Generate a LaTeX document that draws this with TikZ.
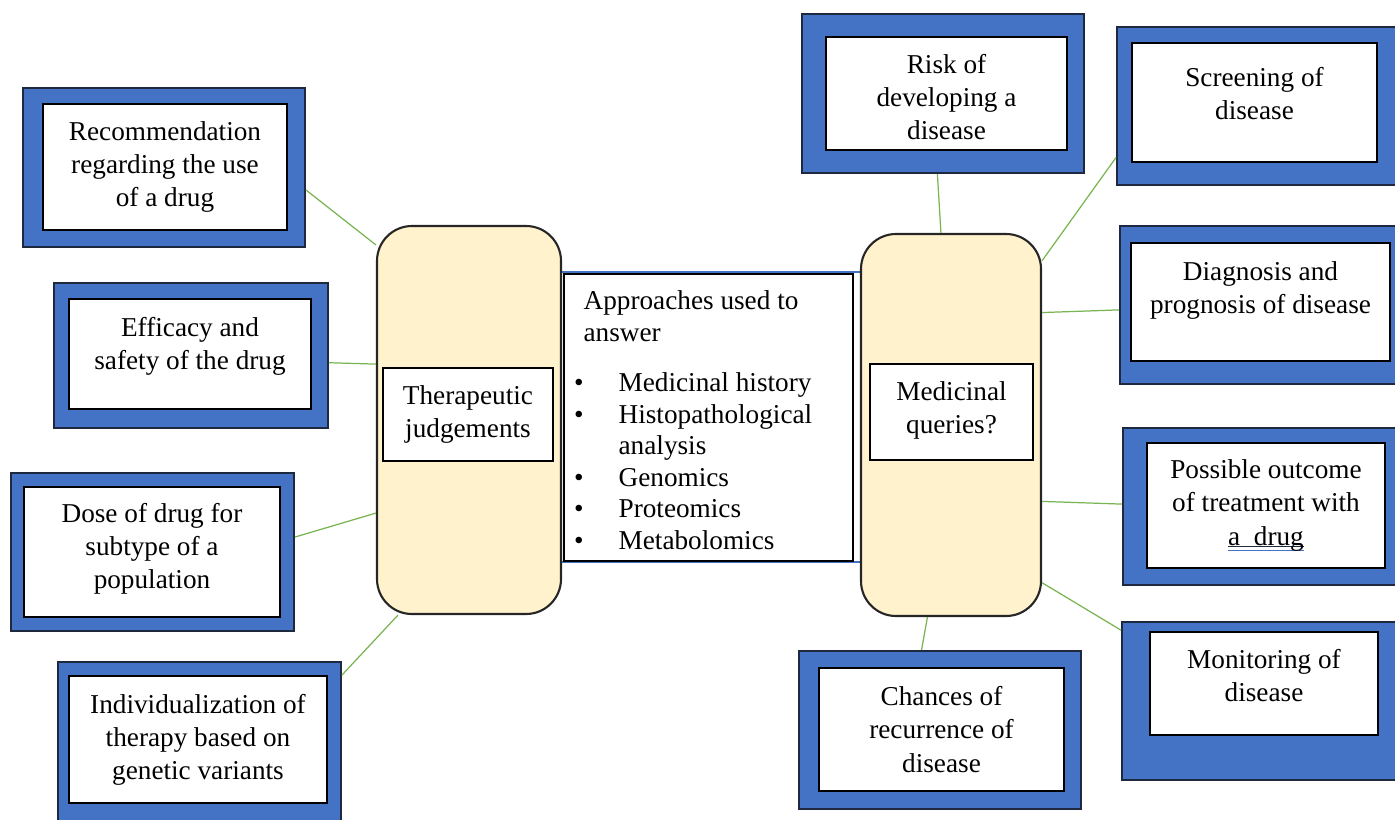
\documentclass[tikz,border=0pt]{standalone}
\usepackage{fontspec}
\setmainfont{Liberation Serif}
\usetikzlibrary{fit}
\definecolor{boxblue}{RGB}{68,114,196}
\definecolor{boxedge}{RGB}{30,40,62}
\definecolor{pillfill}{RGB}{255,242,204}
\definecolor{linkgreen}{RGB}{120,180,80}
\newcommand{\diagfont}{\fontsize{15.5}{18.8}\selectfont}
\newcommand{\listfont}{\fontsize{15.5}{17.9}\selectfont}
\newcommand{\bul}{\makebox[0.7cm][l]{\hspace*{-0.19cm}\textbullet}}
\newcommand{\flagul}[1]{\setbox0=\hbox{#1}\rlap{\color{boxedge}\rule[-1.3pt]{\wd0}{0.5pt}}\rlap{\color{boxblue}\rule[-3.4pt]{\wd0}{0.6pt}}\box0}

\begin{document}
\begin{tikzpicture}[x=0.02cm,y=-0.02cm,
 outer/.style={draw=boxedge,fill=boxblue,line width=1.1pt,inner sep=0pt},
 inbox/.style={draw=black,fill=white,line width=0.8pt,inner sep=0pt,align=center,font=\diagfont},
 pill/.style={draw=black!85,fill=pillfill,line width=1.2pt,rounded corners=0.7cm,inner sep=0pt},
 txt/.style={align=center,font=\diagfont,inner sep=0pt},
 link/.style={draw=linkgreen,line width=0.7pt}]
\useasboundingbox (0,0) rectangle (1395,819);

% left boxes
\node[outer, fit={(23,88)(305,247)}] (rec) {};
\node[inbox, fit={(43,104)(287,230)}] (recin) {};
\node[txt] (rectxt) at (recin) {Recommendation\\regarding the use\\of a drug};
\node[outer, fit={(54,283)(328,428)}] (eff) {};
\node[inbox, fit={(69,299)(311,409)}] (effin) {};
\node[txt] (efftxt) at ([shift={(0,-8)}]effin.center) {Efficacy and\\safety of the drug};
\node[outer, fit={(11,473)(294,631)}] (dose) {};
\node[inbox, fit={(24,487)(280,617)}] (dosein) {};
\node[txt] (dosetxt) at ([shift={(0,-3)}]dosein.center) {Dose of drug for\\subtype of a\\population};
\node[outer, fit={(58,662)(341,821)}] (ind) {};
\node[inbox, fit={(69,676)(327,803)}] (indin) {};
\node[txt] (indtxt) at (indin) {Individualization of\\therapy based on\\genetic variants};

% right boxes
\node[outer, fit={(802,14)(1084,173)}] (risk) {};
\node[inbox, fit={(826,37)(1067,150)}] (riskin) {};
\node[txt] (risktxt) at ([shift={(0,4)}]riskin.center) {Risk of\\developing a\\disease};
\node[outer, fit={(1117,27)(1398,185)}] (scr) {};
\node[inbox, fit={(1132,43)(1377,162)}] (scrin) {};
\node[txt] (scrtxt) at ([shift={(0,-9)}]scrin.center) {Screening of\\disease};
\node[outer, fit={(1120,226)(1398,384)}] (diag) {};
\node[inbox, fit={(1131,243)(1390,361)}] (diagin) {};
\node[txt] (diagtxt) at ([shift={(0,-12)}]diagin.center) {Diagnosis and\\prognosis of disease};
\node[outer, fit={(1123,428)(1398,585)}] (outc) {};
\node[inbox, fit={(1147,443)(1385,568)}] (outcin) {};
\node[txt] (outctxt) at (outcin) {Possible outcome\\of treatment with\\\flagul{a\ \ drug}};
\node[outer, fit={(1122,622)(1398,780)}] (mon) {};
\node[inbox, fit={(1150,632)(1378,735)}] (monin) {};
\node[txt] (montxt) at ([shift={(0,-8)}]monin.center) {Monitoring of\\disease};
\node[outer, fit={(799,651)(1081,809)}] (chn) {};
\node[inbox, fit={(819,668)(1064,791)}] (chnin) {};
\node[txt] (chntxt) at (chnin) {Chances of\\recurrence of\\disease};

% approaches in the middle
\node[draw=boxblue, line width=0.7pt, inner sep=0pt, fit={(561,272)(861,562)}] (apprframe) {};
\node[draw=black, fill=white, line width=0.8pt, inner sep=0pt, fit={(564,274)(853,561)}] (appr) {};
\node[anchor=north west, align=left, inner sep=0pt, font=\listfont] (apprtxt) at ([shift={(20,17)}]appr.north west)
 {Approaches used to\\answer\\[0.39cm]
 \bul Medicinal history\\
 \bul Histopathological\\
 \hspace*{0.7cm}analysis\\
 \bul Genomics\\
 \bul Proteomics\\
 \bul Metabolomics};

% the two pillars
\node[pill, fit={(377,226)(561,614)}] (thj) {};
\node[inbox, fit={(383,368)(553,461)}] (thjin) {};
\node[txt] (thjtxt) at ([shift={(0,0)}]thjin.center) {Therapeutic\\judgements};
\node[pill, fit={(861,234)(1041,616)}] (mq) {};
\node[inbox, fit={(870,364)(1033,460)}] (mqin) {};
\node[txt] (mqtxt) at ([shift={(0,-2)}]mqin.center) {Medicinal\\queries?};

% links
\draw[link] (rec.-9) -- (thj.118);
\draw[link] (eff.-3) -- (thj.149);
\draw[link] (dose.6) -- (thj.225);
\draw[link] (ind.25) -- (thj.250);
\draw[link] (risk.266) -- (mq.93);
\draw[link] (scr.200) -- (mq.61);
\draw[link] (diag.182) -- (mq.51);
\draw[link] (outc.179) -- (mq.-40);
\draw[link] (mon.153) -- (mq.-60);
\draw[link] (chn.103) -- (mq.263);
\end{tikzpicture}
\end{document}
